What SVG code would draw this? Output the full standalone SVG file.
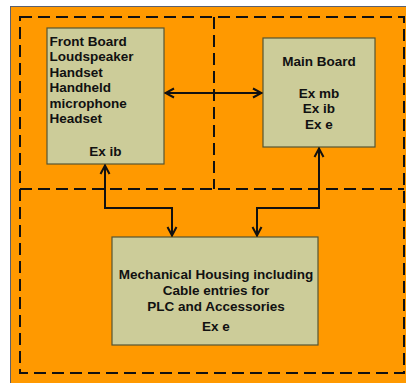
<svg xmlns="http://www.w3.org/2000/svg" width="406" height="383" viewBox="0 0 406 383">
  <defs>
    <style>
      .bg { fill: #FF9900; stroke: #5a6070; stroke-width: 1; }
      .zone { fill: none; stroke: #111; stroke-width: 2; stroke-dasharray: 12 6; }
      .box { fill: #CCCC99; stroke: #555533; stroke-width: 1.2; }
      .lbl { font-family: "Liberation Sans", Arial, sans-serif; font-weight: bold; font-size: 13.5px; fill: #111; }
      .mid { text-anchor: middle; }
      .wire { fill: none; stroke: #111; stroke-width: 2; }
    </style>
    <marker id="arrow" viewBox="0 0 12 12" refX="11" refY="6" markerWidth="12" markerHeight="12" markerUnits="userSpaceOnUse" orient="auto-start-reverse">
      <path d="M2,1.5 L10.5,6 L2,10.5" fill="none" stroke="#111" stroke-width="2"/>
    </marker>
  </defs>

  <!-- enclosure background -->
  <rect class="bg" x="10.5" y="6.5" width="400" height="380"/>

  <!-- protection zones -->
  <g id="zones">
    <rect class="zone" x="20" y="17" width="384" height="356"/>
    <polyline class="zone" points="20,189 404,189"/>
    <polyline class="zone" points="214,17 214,189"/>
  </g>

  <!-- Front Board -->
  <g id="front-board">
    <rect class="box" x="47" y="28" width="117" height="136"/>
    <text class="lbl" x="49.5" y="45.5">Front Board</text>
    <text class="lbl" x="49.5" y="61">Loudspeaker</text>
    <text class="lbl" x="49.5" y="76.5">Handset</text>
    <text class="lbl" x="49.5" y="92">Handheld</text>
    <text class="lbl" x="49.5" y="107.5">microphone</text>
    <text class="lbl" x="49.5" y="123">Headset</text>
    <text class="lbl mid" x="105.5" y="156">Ex ib</text>
  </g>

  <!-- Main Board -->
  <g id="main-board">
    <rect class="box" x="263" y="38" width="112" height="109"/>
    <text class="lbl mid" x="319" y="65.5">Main Board</text>
    <text class="lbl mid" x="319" y="97.5">Ex mb</text>
    <text class="lbl mid" x="319" y="113">Ex ib</text>
    <text class="lbl mid" x="319" y="128.5">Ex e</text>
  </g>

  <!-- Mechanical Housing -->
  <g id="housing">
    <rect class="box" x="112" y="237" width="206" height="108"/>
    <text class="lbl mid" x="216" y="279">Mechanical Housing including</text>
    <text class="lbl mid" x="216" y="294.5">Cable entries for</text>
    <text class="lbl mid" x="216" y="310.5">PLC and Accessories</text>
    <text class="lbl mid" x="216" y="331">Ex e</text>
  </g>

  <!-- connections -->
  <g id="connectors">
    <line class="wire" x1="165" y1="93" x2="262" y2="93" marker-start="url(#arrow)" marker-end="url(#arrow)"/>
    <polyline class="wire" points="105,165 105,208 172,208 172,236" marker-start="url(#arrow)" marker-end="url(#arrow)"/>
    <polyline class="wire" points="319,148 319,208 257,208 257,236" marker-start="url(#arrow)" marker-end="url(#arrow)"/>
  </g>
</svg>
